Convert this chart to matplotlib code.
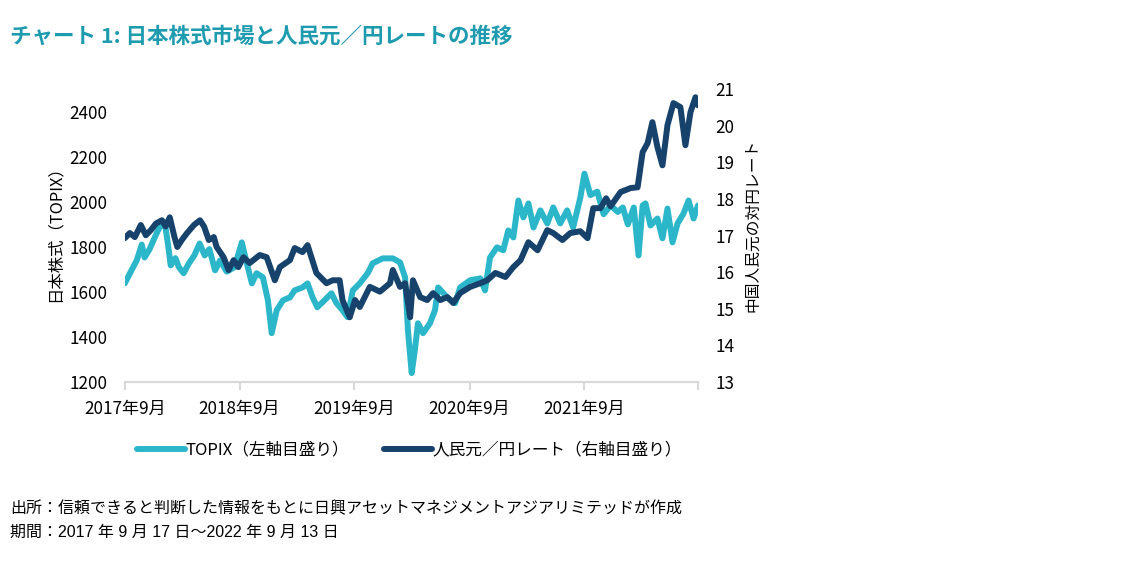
import matplotlib
matplotlib.use("Agg")
import matplotlib.pyplot as plt
import pandas as pd

plt.rcParams['font.family'] = ['Noto Sans CJK JP', 'DejaVu Sans']

title = "チャート 1: 日本株式市場と人民元／円レートの推移"
left_label = "日本株式（TOPIX）"
right_label = "中国人民元の対円レート"
topix_name = "TOPIX（左軸目盛り）"
cny_name = "人民元／円レート（右軸目盛り）"
note1 = "出所：信頼できると判断した情報をもとに日興アセットマネジメントアジアリミテッドが作成"
note2 = "期間：2017 年 9 月 17 日～2022 年 9 月 13 日"

tick_dates = ["2017-09-17", "2018-09-17", "2019-09-17", "2020-09-17", "2021-09-17", "2022-09-13"]
tick_labels = ["2017年9月", "2018年9月", "2019年9月", "2020年9月", "2021年9月", ""]

topix_dates = [
    "2017-09-17", "2017-10-05", "2017-10-25", "2017-11-10", "2017-11-19", "2017-12-05", "2017-12-20",
    "2018-01-05", "2018-01-22", "2018-02-01", "2018-02-10", "2018-02-25", "2018-03-08", "2018-03-23",
    "2018-04-08", "2018-04-26", "2018-05-13", "2018-05-29", "2018-06-13", "2018-07-01", "2018-07-17",
    "2018-08-07", "2018-09-01", "2018-09-24", "2018-10-10", "2018-10-26", "2018-11-10", "2018-11-30",
    "2018-12-16", "2018-12-28", "2019-01-13", "2019-02-02", "2019-02-24", "2019-03-11", "2019-04-05",
    "2019-04-21", "2019-05-07", "2019-05-22", "2019-06-14", "2019-07-06", "2019-07-22", "2019-08-10",
    "2019-08-26", "2019-09-12", "2019-10-04", "2019-10-29", "2019-11-14", "2019-12-16", "2020-01-17",
    "2020-02-09", "2020-02-25", "2020-03-05", "2020-03-17", "2020-03-27", "2020-04-06", "2020-04-22",
    "2020-05-14", "2020-05-30", "2020-06-09", "2020-07-08", "2020-08-02", "2020-08-18", "2020-09-19",
    "2020-10-21", "2020-11-05", "2020-11-21", "2020-12-13", "2021-01-02", "2021-01-18", "2021-02-03",
    "2021-02-19", "2021-03-07", "2021-03-23", "2021-04-08", "2021-04-30", "2021-05-22", "2021-06-10",
    "2021-07-02", "2021-07-24", "2021-08-12", "2021-09-04", "2021-09-17", "2021-10-06", "2021-10-28",
    "2021-11-17", "2021-12-09", "2022-01-01", "2022-01-17", "2022-02-02", "2022-02-21", "2022-03-08",
    "2022-03-21", "2022-03-30", "2022-04-15", "2022-05-07", "2022-05-23", "2022-06-08", "2022-06-24",
    "2022-07-10", "2022-07-29", "2022-08-14", "2022-08-30", "2022-09-13",
]
topix_values = [
    1638, 1687, 1740, 1810, 1753, 1790, 1838,
    1886, 1910, 1815, 1718, 1750, 1710, 1683,
    1725, 1762, 1815, 1762, 1790, 1696, 1740,
    1690, 1710, 1820, 1727, 1638, 1683, 1665,
    1563, 1417, 1519, 1563, 1576, 1607, 1620,
    1638, 1576, 1532, 1563, 1594, 1550, 1519,
    1488, 1607, 1638, 1683, 1727, 1749, 1749,
    1731, 1665, 1430, 1240, 1342, 1461, 1417,
    1461, 1519, 1620, 1576, 1550, 1620, 1652,
    1660, 1607, 1753, 1798, 1785, 1873, 1842,
    2006, 1931, 1993, 1886, 1962, 1904, 1975,
    1904, 1962, 1886, 2019, 2125, 2030, 2045,
    1945, 1984, 1955, 1975, 1900, 1975, 1762,
    1984, 1993, 1895, 1926, 1838, 1970, 1820,
    1904, 1948, 2006, 1926, 1984,
]

cny_dates = [
    "2017-09-17", "2017-10-03", "2017-10-19", "2017-11-07", "2017-11-23", "2017-12-09", "2017-12-25",
    "2018-01-13", "2018-01-25", "2018-02-07", "2018-02-22", "2018-03-03", "2018-03-19", "2018-04-03",
    "2018-04-25", "2018-05-14", "2018-05-27", "2018-06-11", "2018-06-27", "2018-07-06", "2018-07-28",
    "2018-08-13", "2018-08-29", "2018-09-13", "2018-09-29", "2018-10-19", "2018-11-20", "2018-12-12",
    "2019-01-07", "2019-01-23", "2019-02-24", "2019-03-11", "2019-04-05", "2019-04-21", "2019-05-19",
    "2019-06-20", "2019-07-10", "2019-08-01", "2019-08-10", "2019-09-02", "2019-09-19", "2019-10-04",
    "2019-11-05", "2019-12-07", "2020-01-08", "2020-01-17", "2020-02-09", "2020-02-25", "2020-03-12",
    "2020-03-21", "2020-04-13", "2020-05-05", "2020-05-24", "2020-06-16", "2020-07-08", "2020-07-27",
    "2020-08-18", "2020-09-19", "2020-10-21", "2020-11-12", "2020-12-08", "2021-01-09", "2021-02-03",
    "2021-02-26", "2021-03-23", "2021-04-21", "2021-05-22", "2021-06-10", "2021-07-09", "2021-08-03",
    "2021-09-04", "2021-09-27", "2021-10-15", "2021-11-07", "2021-11-25", "2021-12-09", "2022-01-10",
    "2022-02-11", "2022-03-05", "2022-03-21", "2022-04-06", "2022-04-21", "2022-05-07", "2022-05-23",
    "2022-06-08", "2022-06-27", "2022-07-19", "2022-08-04", "2022-08-20", "2022-09-05", "2022-09-13",
]
cny_values = [
    16.93, 17.07, 16.96, 17.29, 17.01, 17.15, 17.33,
    17.42, 17.25, 17.50, 16.96, 16.69, 16.90, 17.07,
    17.29, 17.42, 17.25, 16.88, 16.96, 16.69, 16.41,
    16.06, 16.33, 16.14, 16.41, 16.25, 16.47, 16.41,
    15.78, 16.14, 16.33, 16.66, 16.55, 16.74, 15.98,
    15.70, 15.78, 15.78, 15.24, 14.77, 15.24, 15.05,
    15.60, 15.47, 15.70, 16.06, 15.60, 15.70, 14.77,
    15.78, 15.32, 15.24, 15.43, 15.24, 15.32, 15.16,
    15.43, 15.60, 15.70, 15.78, 15.98, 15.87, 16.14,
    16.33, 16.82, 16.60, 17.15, 17.07, 16.88, 17.07,
    17.12, 16.93, 17.75, 17.75, 18.02, 17.80, 18.19,
    18.30, 18.32, 19.28, 19.53, 20.10, 19.42, 18.92,
    20.02, 20.62, 20.51, 19.47, 20.37, 20.78, 20.56,
]

teal = "#2bb7c9"
navy = "#17426c"

fig = plt.figure(figsize=(11.24, 5.61), dpi=100)
ax = fig.add_axes([0.111, 0.319, 0.510, 0.522])
ax2 = ax.twinx()

td = pd.to_datetime(topix_dates)
cd = pd.to_datetime(cny_dates)
l1, = ax.plot(td, topix_values, color=teal, lw=4.3, solid_capstyle='round', solid_joinstyle='round', label=topix_name)
l2, = ax2.plot(cd, cny_values, color=navy, lw=4.3, solid_capstyle='round', solid_joinstyle='round', label=cny_name)

ax.set_ylim(1200, 2500)
ax.set_yticks([1200, 1400, 1600, 1800, 2000, 2200, 2400])
ax2.set_ylim(13, 21)
ax2.set_yticks(range(13, 22))
ax.set_xlim(pd.Timestamp(tick_dates[0]), pd.Timestamp(tick_dates[-1]))
ax.set_xticks(pd.to_datetime(tick_dates))
ax.set_xticklabels(tick_labels)

for a in (ax, ax2):
    for s in ("top", "left", "right"):
        a.spines[s].set_visible(False)
    a.spines["bottom"].set_color("#d9d9d9")
    a.spines["bottom"].set_linewidth(1.5)
ax.tick_params(axis='x', colors="#d9d9d9", length=6, width=1.5, labelcolor="black", labelsize=12.3, pad=7)
ax.tick_params(axis='y', length=0, labelsize=12.3, pad=12.5)
ax2.tick_params(axis='y', length=0, labelsize=12.3, pad=12.5)

ax.set_ylabel(left_label, fontsize=11.8, labelpad=4, y=0.52)
ax2.set_ylabel(right_label, fontsize=11.3, rotation=90, labelpad=7, y=0.535)

fig.legend(handles=[l1, l2], loc='center', bbox_to_anchor=(0.364, 0.198), ncol=2, frameon=False,
           fontsize=12, handlelength=2.9, columnspacing=2.1, handletextpad=0.0)

fig.text(0.009, 0.935, title, fontsize=15.5, fontweight='bold', color="#1f9bb0", va='center')
fig.text(0.009, 0.094, note1, fontsize=11.5, va='center', family=['Liberation Sans', 'Noto Sans CJK JP'])
fig.text(0.009, 0.051, note2, fontsize=11.5, va='center', family=['Liberation Sans', 'Noto Sans CJK JP'])

fig.savefig("out.png", dpi=100)
